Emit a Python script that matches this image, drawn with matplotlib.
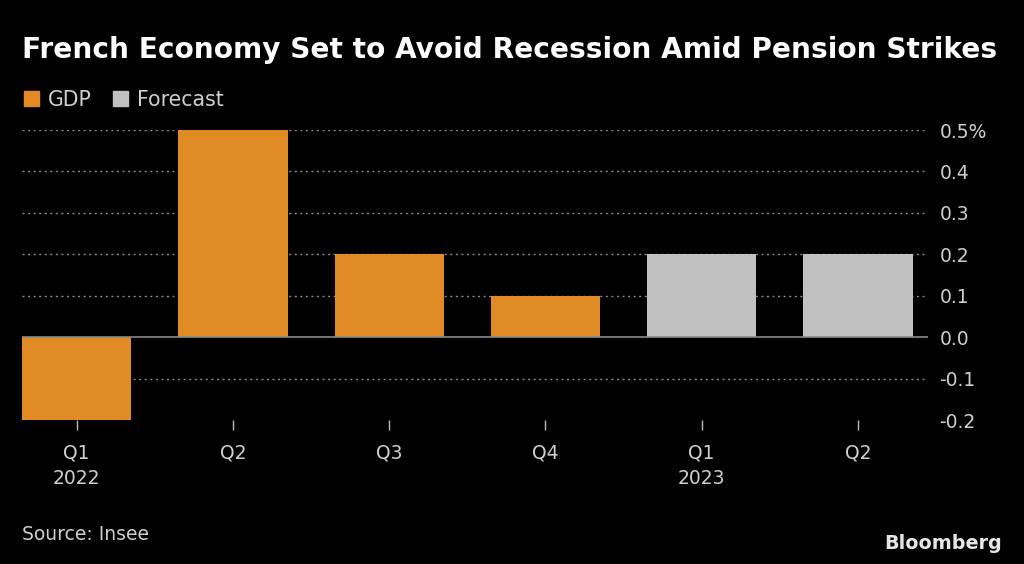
import matplotlib.pyplot as plt
import matplotlib.patches as mpatches

quarters = ["Q1\n2022", "Q2", "Q3", "Q4", "Q1\n2023", "Q2"]
gdp = [-0.2, 0.5, 0.2, 0.1, None, None]
forecast = [None, None, None, None, 0.2, 0.2]
y_ticks = [-0.2, -0.1, 0.0, 0.1, 0.2, 0.3, 0.4, 0.5]
y_labels = ["-0.2", "-0.1", "0.0", "0.1", "0.2", "0.3", "0.4", "0.5%"]

ORANGE = "#E08B25"
GREY = "#C0C0C0"
TEXT = "#CFCFCF"
BG = "#000000"

fig = plt.figure(figsize=(10.24, 5.64), dpi=100)
fig.patch.set_facecolor(BG)
ax = fig.add_axes([0.0215, 0.2553, 0.885, 0.5142])
ax.set_facecolor(BG)

x = range(len(quarters))
for i in x:
    if gdp[i] is not None:
        ax.bar(i, gdp[i], width=0.7, color=ORANGE, zorder=3)
    if forecast[i] is not None:
        ax.bar(i, forecast[i], width=0.7, color=GREY, zorder=3)

ax.set_xlim(-0.35, 5.45)
ax.set_ylim(-0.2, 0.5)

for v in y_ticks:
    if v == 0.0:
        ax.axhline(0, color="#8a8a8a", lw=1.2, zorder=4)
    elif v > -0.2:
        ax.axhline(v, color="#8a8a8a", lw=1.0, ls=(0, (1.5, 2.5)), zorder=1)

ax.yaxis.tick_right()
ax.set_yticks(y_ticks)
ax.set_yticklabels(y_labels)
ax.tick_params(axis="y", length=0, pad=8, labelsize=13.5, labelcolor=TEXT)
for lbl in ax.get_yticklabels():
    lbl.set_horizontalalignment("left")

ax.set_xticks(list(x))
ax.set_xticklabels(quarters, linespacing=1.45)
ax.tick_params(axis="x", length=7, width=1, color="#bbbbbb", pad=10,
               labelsize=13.5, labelcolor=TEXT)

for s in ax.spines.values():
    s.set_visible(False)

fig.text(0.0215, 0.912, "French Economy Set to Avoid Recession Amid Pension Strikes",
         color="white", fontsize=20.2, fontweight="bold", va="center", ha="left")

handles = [mpatches.Patch(color=ORANGE, label="GDP"),
           mpatches.Patch(color=GREY, label="Forecast")]
fig.legend(handles=handles, loc="center left", bbox_to_anchor=(0.005, 0.823),
           ncol=2, frameon=False, fontsize=14.8, labelcolor=TEXT,
           handlelength=0.75, handleheight=0.75, handletextpad=0.45, columnspacing=1.0)

fig.text(0.0215, 0.053, "Source: Insee", color=TEXT, fontsize=13.5, va="center", ha="left")
fig.text(0.979, 0.036, "Bloomberg", color="#E6E6E6", fontsize=13.8, fontweight="bold",
         va="center", ha="right")

fig.savefig("out.png", dpi=100, facecolor=BG)
